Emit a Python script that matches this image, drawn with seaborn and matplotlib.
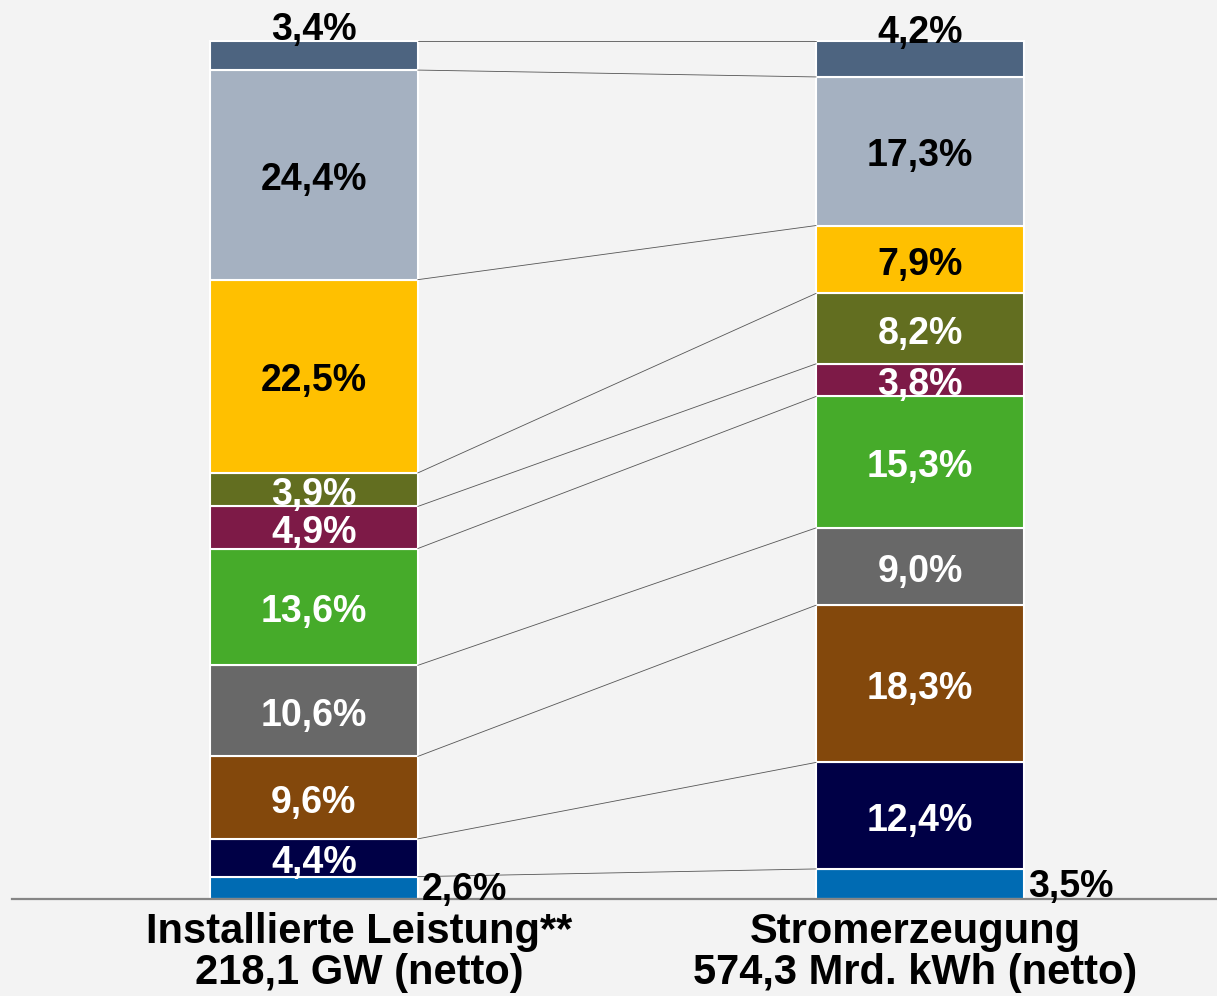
import matplotlib
matplotlib.use('Agg')
import matplotlib.pyplot as plt
import matplotlib.transforms as mtransforms
import seaborn as sns
import numpy as np

# data, bottom segment first
bars = ['Installierte Leistung**\n218,1 GW (netto)', 'Stromerzeugung\n574,3 Mrd. kWh (netto)']
sources = ['Sonstige', 'Kernenergie', 'Braunkohle', 'Steinkohle', 'Erdgas', 'Wasser',
           'Biomasse', 'Photovoltaik', 'Wind', 'Andere Erneuerbare']
leistung = [2.6, 4.4, 9.6, 10.6, 13.6, 4.9, 3.9, 22.5, 24.4, 3.4]
erzeugung = [3.5, 12.4, 18.3, 9.0, 15.3, 3.8, 8.2, 7.9, 17.3, 4.2]
colors = ['#006bb3', '#000046', '#83480c', '#686868', '#46ab2a', '#7d1a47',
          '#626e20', '#ffc000', '#a5b1c1', '#4d6480']
text_colors = ['black', 'white', 'white', 'white', 'white', 'white', 'white', 'black', 'black', 'black']

BG = '#f3f3f3'
W = 0.343
FS = 27

sns.set_theme(style='white')
plt.rcParams['font.family'] = ['Liberation Sans', 'DejaVu Sans']

fig = plt.figure(figsize=(12.17, 9.96), dpi=100, facecolor=BG)
ax = fig.add_axes([12 / 1217, 97 / 996, 1205 / 1217, 859 / 996])
ax.set_facecolor(BG)

vals = np.array([leistung, erzeugung])  # shape (2, n)
bottoms = np.zeros(2)
for i, src in enumerate(sources):
    sns.barplot(x=bars, y=vals[:, i], bottom=bottoms, color=colors[i], width=W,
                edgecolor='white', linewidth=1.5, saturation=1, ax=ax)
    bottoms = bottoms + vals[:, i]

cum = np.cumsum(vals, axis=1)
# connector lines between segment boundaries
for j in range(len(sources)):
    ax.plot([W / 2, 1 - W / 2], [cum[0, j], cum[1, j]], color='#555555', lw=0.6, zorder=1)

# labels
for b in range(2):
    starts = cum[b] - vals[b]
    for i, v in enumerate(vals[b]):
        lab = f'{v:.1f}%'.replace('.', ',')
        if i == 0:
            ax.text(b + W / 2 + 0.007, starts[i] + v / 2 - 0.3, lab, ha='left', va='center',
                    fontsize=FS, fontweight='bold', color='black')
        elif i == len(sources) - 1:
            ax.text(b, cum[b, i] + 1.3 - 0.4 * b, lab, ha='center', va='center',
                    fontsize=FS, fontweight='bold', color='black', clip_on=False)
        else:
            ax.text(b, starts[i] + v / 2 - 0.6, lab, ha='center', va='center',
                    fontsize=FS, fontweight='bold', color=text_colors[i])

ax.set_xlim(-0.498, 1.490)
ax.set_ylim(0, 100)
ax.set_yticks([])
ax.set_xlabel('')
ax.set_ylabel('')
ax.tick_params(axis='x', length=0, pad=9)
shifts = [45, -5]
for t, dx in zip(ax.get_xticklabels(), shifts):
    t.set_fontsize(30)
    t.set_fontweight('bold')
    t.set_linespacing(1.05)
    t.set_color('black')
    t.set_transform(t.get_transform() + mtransforms.ScaledTranslation(dx / 100, 0, fig.dpi_scale_trans))
for s in ['top', 'left', 'right']:
    ax.spines[s].set_visible(False)
ax.spines['bottom'].set_color('#858585')
ax.spines['bottom'].set_linewidth(1.6)

plt.savefig('out.png', dpi=100, facecolor=BG)
